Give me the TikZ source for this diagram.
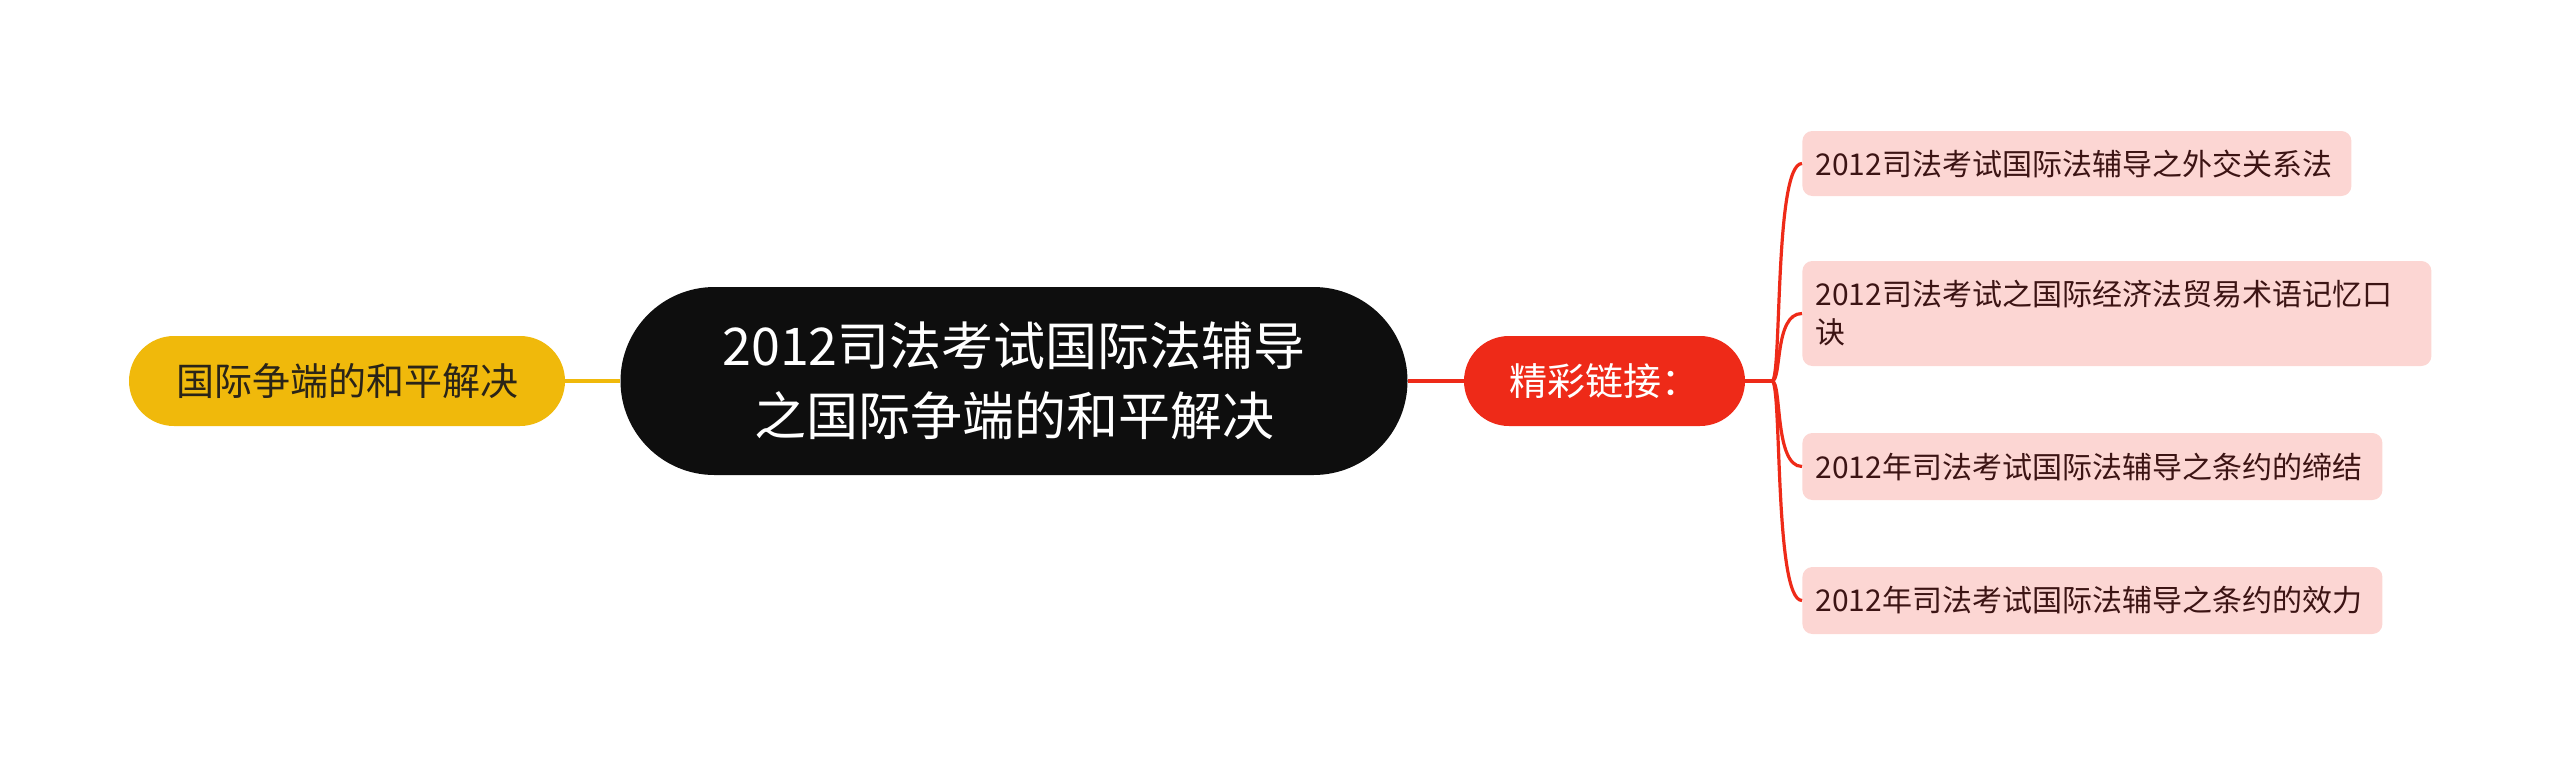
\documentclass[tikz,border=0pt]{standalone}
\usepackage{fontspec}
\setmainfont{Noto Sans CJK SC}
\definecolor{cblack}{HTML}{0E0E0E}
\definecolor{cyel}{HTML}{F0B90B}
\definecolor{cred}{HTML}{EE2A18}
\definecolor{cleaf}{HTML}{FCD6D3}
\definecolor{cleaftext}{HTML}{3C1414}
\definecolor{cdark}{HTML}{2A2418}
\begin{document}
\begin{tikzpicture}[x=0.5pt,y=-0.5pt,
  pill/.style={draw=none,inner sep=0pt,align=center},
  leafbox/.style={fill=cleaf,rounded corners=5pt,anchor=west,inner xsep=6.5pt,inner ysep=0pt,align=left,
    font=\fontsize{15pt}{19pt}\selectfont,text=cleaftext},
  redline/.style={draw=cred,line width=1.6pt},
  yelline/.style={draw=cyel,line width=1.6pt}]
\useasboundingbox (0,0) rectangle (2560,762);
\node[pill,fill=cblack,text=white,minimum width=393.5pt,minimum height=94pt,rounded corners=47pt,
  font=\fontsize{26pt}{35pt}\selectfont] (ctr) at (1014,381) {2012司法考试国际法辅导\\之国际争端的和平解决};
\node[pill,fill=cyel,text=cdark,minimum width=218pt,minimum height=45pt,rounded corners=22.5pt,
  font=\fontsize{19pt}{24pt}\selectfont] (yl) at (347,381) {国际争端的和平解决};
\node[pill,fill=cred,text=white,minimum width=140.5pt,minimum height=45pt,rounded corners=22.5pt,
  font=\fontsize{19pt}{24pt}\selectfont] (rd) at (1604.5,381) {精彩链接：};
\coordinate (j) at (1772,381);
\node[leafbox,text width=261.5pt,minimum height=32.5pt] (l1) at (1802,163.5) {2012司法考试国际法辅导之外交关系法};
\node[leafbox,text width=301.5pt,minimum height=52.5pt] (l2) at (1802,313.5) {2012司法考试之国际经济法贸易术语记忆口\\诀};
\node[leafbox,text width=277pt,minimum height=33.5pt] (l3) at (1802,466.5) {2012年司法考试国际法辅导之条约的缔结};
\node[leafbox,text width=277pt,minimum height=33.5pt] (l4) at (1802,600.5) {2012年司法考试国际法辅导之条约的效力};
\draw[yelline] (yl.east) -- (ctr.west);
\draw[redline] (ctr.east) -- (rd.west);
\draw[redline] (rd.east) -- (j);
\foreach \l in {l1,l2,l3,l4}{
  \draw[redline] (j) .. controls +(10,0) and +(-28,0) .. (\l.west);
}
\end{tikzpicture}
\end{document}
